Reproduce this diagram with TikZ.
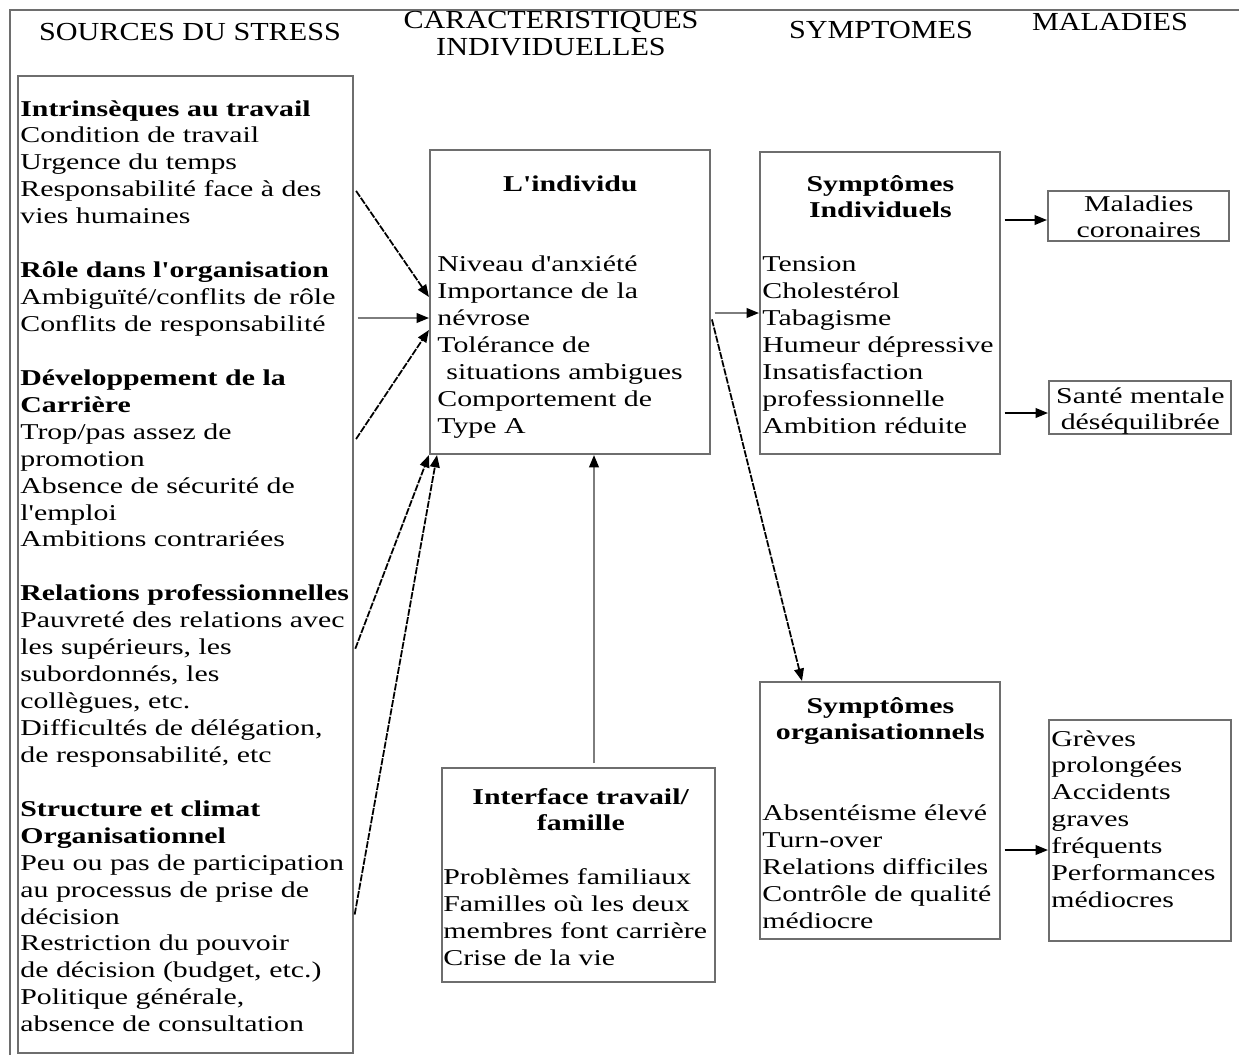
\documentclass[tikz,border=0pt]{standalone}
\usepackage{fontspec}
\newfontfamily\bodyfont{Liberation Serif}[FakeStretch=1.32]
\newfontfamily\headfont{Liberation Serif}[FakeStretch=1.16]
\usetikzlibrary{fit,calc,arrows.meta}
\definecolor{stressgray}{RGB}{110,110,110}
\definecolor{stressline}{RGB}{125,125,125}

\begin{document}
\begin{tikzpicture}[
    x=0.02cm, y=-0.02cm,
    font=\bodyfont\fontsize{12.87pt}{15.33pt}\selectfont,
    box/.style={draw=stressgray, line width=1.2pt, inner sep=0pt},
    txt/.style={anchor=base west, inner sep=0pt, align=left},
    ctr/.style={anchor=base west, inner sep=0pt, align=center},
    head/.style={anchor=base, inner sep=0pt, align=center, font=\headfont\fontsize{14.8pt}{15.6pt}\selectfont},
    arr/.style={-{Triangle[length=7pt,width=5.5pt]}, line width=0.9pt, shorten <=2pt},
    diag/.style={arr, line width=1pt, dash pattern=on 4pt off 0.8pt},
    flat/.style={-{Triangle[length=7pt,width=5.5pt,color=black]}, draw=stressline, line width=1pt, shorten <=2pt},
]
\useasboundingbox (0,0) rectangle (1239,1055);
\draw[stressgray, line width=1pt] (10,1055) -- (10,10) -- (1239,10);

% column titles
\node[head] (hsources) at (190,40) {SOURCES DU STRESS};
\node[head, text width=7cm] (hcarac) at (551,28) {CARACTERISTIQUES\\INDIVIDUELLES};
\node[head] (hsympt) at (881,38) {SYMPTOMES};
\node[head] (hmal) at (1110,30) {MALADIES};

% boxes
\node[box, fit={(18,76) (353,1053)}]    (sources)   {};
\node[box, fit={(430,150) (710,454)}]   (indiv)     {};
\node[box, fit={(442,768) (715,982)}]   (interface) {};
\node[box, fit={(760,152) (1000,454)}]  (sympind)   {};
\node[box, fit={(760,682) (1000,939)}]  (symporg)   {};
\node[box, fit={(1048,191) (1229,241)}] (malcor)    {};
\node[box, fit={(1049,381) (1231,434)}] (sante)     {};
\node[box, fit={(1049,720) (1231,941)}] (greves)    {};

% texts
\node[txt, text width=7.6cm] (sourcestxt) at (20,116) {%
\textbf{Intrinsèques au travail}\\
Condition de travail\\
Urgence du temps\\
Responsabilité face à des\\
vies humaines\\
~\\
\textbf{Rôle dans l'organisation}\\
Ambiguïté/conflits de rôle\\
Conflits de responsabilité\\
~\\
\textbf{Développement de la}\\
\textbf{Carrière}\\
Trop/pas assez de\\
promotion\\
Absence de sécurité de\\
l'emploi\\
Ambitions contrariées\\
~\\
\textbf{Relations~professionnelles}\\
Pauvreté des relations avec\\
les supérieurs, les\\
subordonnés, les\\
collègues, etc.\\
Difficultés de délégation,\\
de responsabilité, etc\\
~\\
\textbf{Structure et climat}\\
\textbf{Organisationnel}\\
Peu ou pas de participation\\
au processus de prise de\\
décision\\
Restriction du pouvoir\\
de décision (budget, etc.)\\
Politique générale,\\
absence de consultation};

\node[txt, text width=5.32cm] (indivtxt) at (437,191) {%
{\centering\textbf{L'individu}\par}
\vspace{2\baselineskip}
Niveau~d'anxiété\\
Importance~de~la\\
névrose\\
Tolérance~de\\
\hspace*{0.4em}situations~ambigues\\
Comportement~de\\
Type~A};

\node[txt, text width=5.5cm] (interfacetxt) at (443,804) {%
{\centering\textbf{Interface~travail/}\\\textbf{famille}\par}
\vspace{\baselineskip}
Problèmes~familiaux\\
Familles~où~les~deux\\
membres~font~carrière\\
Crise~de~la~vie};

\node[txt, text width=4.72cm] (sympindtxt) at (762,191) {%
{\centering\textbf{Symptômes}\\\textbf{Individuels}\par}
\vspace{\baselineskip}
Tension\\
Cholestérol\\
Tabagisme\\
Humeur~dépressive\\
Insatisfaction\\
professionnelle\\
Ambition~réduite};

\node[txt, text width=4.72cm] (symporgtxt) at (762,713) {%
{\centering\textbf{Symptômes}\\\textbf{organisationnels}\par}
\vspace{2\baselineskip}
Absentéisme~élevé\\
Turn-over\\
Relations~difficiles\\
Contrôle~de~qualité\\
médiocre};

\node[ctr, text width=3.62cm] (malcortxt) at (1048,211) {Maladies\\coronaires};
\node[ctr, text width=3.64cm] (santetxt) at (1049,403) {Santé~mentale\\déséquilibrée};

\node[txt, text width=3.6cm] (grevestxt) at (1051,746) {%
Grèves\\
prolongées\\
Accidents\\
graves\\
fréquents\\
Performances\\
médiocres};

% connectors
\draw[diag] (sources.east |- 0,188) -- (indiv.west |- 0,297);
\draw[flat] (sources.east |- 0,318) -- (indiv.west |- 0,318);
\draw[diag] (sources.east |- 0,442) -- (indiv.west |- 0,330);
\draw[diag] (sources.east |- 0,652) -- (indiv.south west);
\draw[diag] (sources.east |- 0,918) -- (437,0 |- indiv.south);
\draw[flat] (594,0 |- interface.north) -- (594,0 |- indiv.south);
\draw[flat] (indiv.east |- 0,313) -- (sympind.west |- 0,313);
\draw[diag] (indiv.east |- 0,316) -- (802,0 |- symporg.north);
\draw[arr] (sympind.east |- 0,220) -- (malcor.west |- 0,220);
\draw[arr] (sympind.east |- 0,413) -- (sante.west |- 0,413);
\draw[arr] (symporg.east |- 0,850) -- (greves.west |- 0,850);
\end{tikzpicture}
\end{document}
